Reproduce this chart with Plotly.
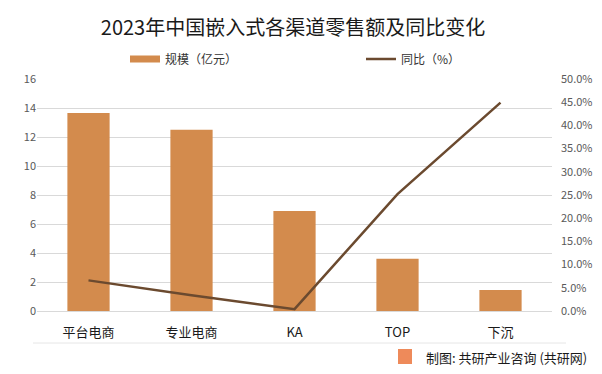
import plotly.graph_objects as go

categories = ["平台电商", "专业电商", "KA", "TOP", "下沉"]
scale_values = [13.65, 12.5, 6.9, 3.6, 1.45]
yoy_values = [6.6, 3.4, 0.4, 25.2, 44.9]
left_ticks = [0, 2, 4, 6, 8, 10, 12, 14, 16]
right_ticks = [0, 5, 10, 15, 20, 25, 30, 35, 40, 45, 50]

BAR = "#D38B4D"
LINE = "#6B4A2F"
FONT = "Microsoft YaHei, Noto Sans CJK SC, sans-serif"

# page body has an 8px margin, so the figure is drawn 8px smaller and shifted
W, H = 594, 366
OFF = 8
PL, PT, PR, PB = 37 - OFF, 79 - OFF, 552 - OFF, 311 - OFF
PW, PH = PR - PL, PB - PT


def px(xr):
    return (xr - OFF - PL) / PW


def py(yr):
    return (PB - (yr - OFF)) / PH


fig = go.Figure()
fig.add_trace(go.Bar(x=categories, y=scale_values, name="规模（亿元）", showlegend=False,
                     marker=dict(color=BAR, line=dict(width=0)), yaxis="y"))
# legend-only entry so the legend swatch is a wide bar-coloured block like the original
fig.add_trace(go.Scatter(x=[None], y=[None], name="规模（亿元）", mode="lines",
                         line=dict(color=BAR, width=7), yaxis="y", legend="legend",
                         hoverinfo="skip"))
fig.add_trace(go.Scatter(x=categories, y=yoy_values, name="同比（%）", mode="lines",
                         line=dict(color=LINE, width=2.5), yaxis="y2", legend="legend2"))

legend_common = dict(orientation="h", yanchor="middle", y=py(59), font=dict(size=12, color="#333333"),
                     bgcolor="rgba(0,0,0,0)", itemwidth=30)

fig.update_layout(
    width=W, height=H,
    margin=dict(l=PL, r=W - PR, t=PT, b=H - PB, autoexpand=False),
    paper_bgcolor="white", plot_bgcolor="white",
    font=dict(family=FONT, color="#595959", size=11),
    title=dict(text="2023年中国嵌入式各渠道零售额及同比变化",
               xref="container", x=(293 - OFF) / W, xanchor="center",
               yref="container", y=1 - (28 - OFF) / H, yanchor="middle",
               font=dict(size=20, color="#1a1a1a", family=FONT)),
    bargap=0.59,
    showlegend=True,
    legend=dict(x=px(125), xanchor="left", **legend_common),
    legend2=dict(x=px(361), xanchor="left", **legend_common),
    xaxis=dict(showgrid=False, showline=True, linecolor="#d9d9d9", ticks="",
               tickfont=dict(size=13, color="#1a1a1a"), ticklabelstandoff=9, automargin=False),
    yaxis=dict(range=[0, 16], tickvals=left_ticks, showgrid=True, gridcolor="#d9d9d9",
               zeroline=False, ticks="", tickfont=dict(size=11, color="#595959"), automargin=False),
    yaxis2=dict(range=[0, 50], tickvals=right_ticks,
                ticktext=[f"{v:.1f}%" for v in right_ticks], overlaying="y", side="right",
                showgrid=False, zeroline=False, ticks="", ticklabelstandoff=8,
                tickfont=dict(size=11, color="#595959"), automargin=False),
)

fig.add_shape(type="line", xref="paper", yref="paper", x0=px(33), x1=px(566),
              y0=py(343), y1=py(343), line=dict(color="#e6e6e6", width=1))
fig.add_shape(type="rect", xref="paper", yref="paper", x0=px(398), x1=px(412),
              y0=py(364), y1=py(349), fillcolor="#EE8A5A", line=dict(width=0))
fig.add_annotation(text="制图: 共研产业咨询 (共研网)", xref="paper", yref="paper",
                   x=px(589), y=py(357), xanchor="right", yanchor="middle",
                   showarrow=False, font=dict(size=13, color="#1a1a1a"))

fig.write_html("out.html")
